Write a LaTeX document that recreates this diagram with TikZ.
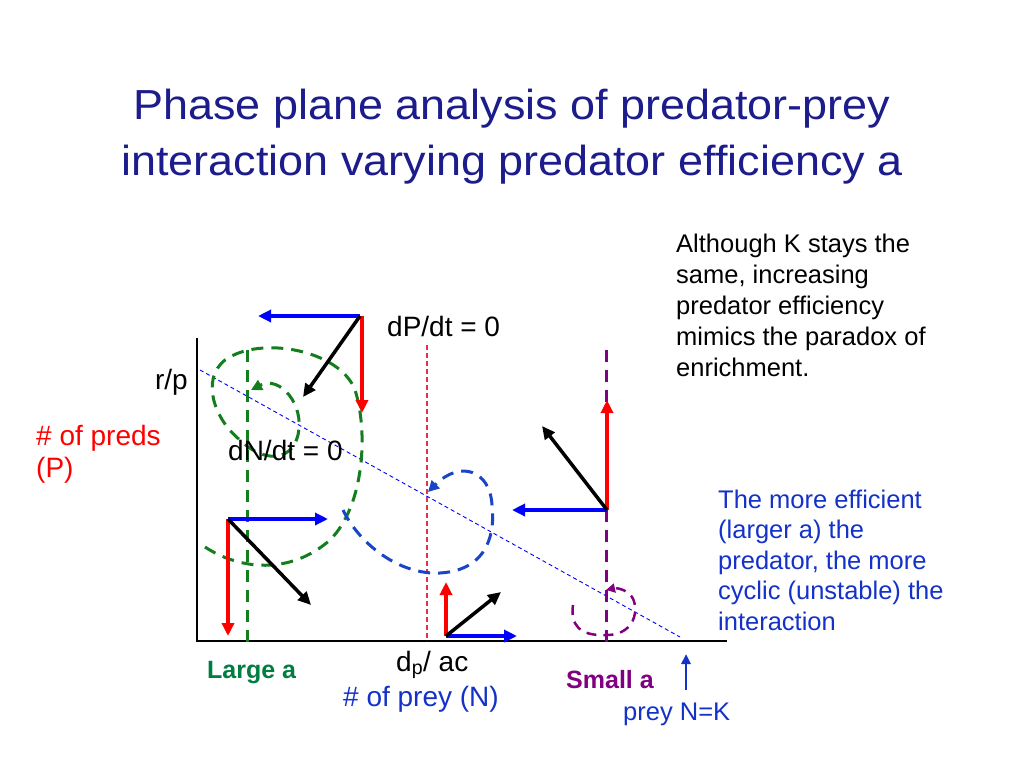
\documentclass[tikz,border=0pt]{standalone}
\usepackage{fontspec}
\setmainfont{Liberation Sans}
\usetikzlibrary{arrows.meta}
\definecolor{titleblue}{RGB}{28,28,140}
\definecolor{txtblue}{RGB}{20,50,200}
\definecolor{dgreen}{RGB}{20,125,30}
\definecolor{lgreen}{RGB}{0,125,65}
\definecolor{purp}{RGB}{128,0,128}
\definecolor{loopblue}{RGB}{25,70,200}
\definecolor{pinkred}{RGB}{235,45,80}
\tikzset{
  vec/.style={line width=3.5pt,-{Triangle[length=13pt,width=12pt]}},
  bvec/.style={vec,color=blue},
  rvec/.style={vec,color=red},
  kvec/.style={vec,color=black},
  traj/.style={line width=3pt,dash pattern=on 12pt off 8pt,-{Triangle[length=11pt,width=11pt]}},
  lbl/.style={inner sep=0pt,anchor=base west,font=\fontsize{28}{32}\selectfont},
  para/.style={inner sep=0pt,anchor=base west,font=\fontsize{25.5}{31}\selectfont},
  ttl/.style={inner sep=0pt,anchor=base,text=titleblue,xscale=1.07,font=\fontsize{42}{50}\selectfont},
}
\begin{document}
\begin{tikzpicture}[x=1pt,y=-1pt]
\useasboundingbox[fill=white] (0,0) rectangle (1024,768);
% title
\node[ttl] (t1) at (512,119) {Phase plane analysis of predator-prey};
\node[ttl] (t2) at (512,175) {interaction varying predator efficiency a};
% right paragraphs
\node[para] (p1) at (676,252) {Although K stays the};
\node[para] (p2) at (676,283) {same, increasing};
\node[para] (p3) at (676,314) {predator efficiency};
\node[para] (p4) at (676,345) {mimics the paradox of};
\node[para] (p5) at (676,376) {enrichment.};
\node[para,text=txtblue] (b1) at (718,508) {The more efficient};
\node[para,text=txtblue] (b2) at (718,538) {(larger a) the};
\node[para,text=txtblue] (b3) at (718,569) {predator, the more};
\node[para,text=txtblue] (b4) at (718,599) {cyclic (unstable) the};
\node[para,text=txtblue] (b5) at (718,630) {interaction};
% axes
\coordinate (O) at (197,641);
\coordinate (Ytop) at (197,338);
\coordinate (Xend) at (727,641);
\draw[line width=2pt] (Ytop) -- (O) -- (Xend);
% isoclines
\coordinate (d1) at (200,370); \coordinate (d2) at (680,637);
\draw[blue,line width=0.9pt,dash pattern=on 4pt off 3pt] (d1) -- (d2);
\coordinate (r1) at (427,345); \coordinate (r2) at (427,641);
\draw[pinkred,line width=1.4pt,dash pattern=on 5pt off 3pt] (r1) -- (r2);
\coordinate (g1) at (247,350); \coordinate (g2) at (247,645);
\draw[dgreen,line width=3pt,dash pattern=on 12pt off 8pt] (g1) -- (g2);
\coordinate (m1) at (606,350); \coordinate (m2) at (606,645);
\draw[purp,line width=3pt,dash pattern=on 12pt off 8pt] (m1) -- (m2);
% trajectories
\draw[traj,dgreen] (205,547) .. controls (240,570) and (290,575) .. (330,540)
  .. controls (365,505) and (368,430) .. (355,390)
  .. controls (340,350) and (260,335) .. (225,360)
  .. controls (200,380) and (215,420) .. (240,440)
  .. controls (260,460) and (290,465) .. (298,435)
  .. controls (305,405) and (280,375) .. (251,390);
\draw[traj,loopblue] (343,510) .. controls (360,545) and (400,575) .. (440,573)
  .. controls (490,570) and (495,530) .. (492,505)
  .. controls (490,470) and (460,460) .. (428,492);
\draw[traj,purp,line width=2.5pt,dash pattern=on 10pt off 7pt,-{Triangle[length=9pt,width=9pt]}] (573,605) .. controls (570,625) and (580,636) .. (605,635)
  .. controls (640,636) and (640,600) .. (628,593)
  .. controls (622,588) and (615,588) .. (606,590);
% vector groups
\coordinate (A) at (360,316);
\coordinate (Ab) at (258,316); \coordinate (Ar) at (362,413); \coordinate (Ak) at (303,397);
\draw[bvec] (A) -- (Ab); \draw[rvec] (362,316) -- (Ar); \draw[kvec] (A) -- (Ak);
\coordinate (B) at (228,519);
\coordinate (Bb) at (328,519); \coordinate (Br) at (228,636); \coordinate (Bk) at (311,605);
\draw[bvec] (B) -- (Bb); \draw[rvec] (B) -- (Br); \draw[kvec] (B) -- (Bk);
\coordinate (C) at (607,510);
\coordinate (Cb) at (512,510); \coordinate (Cr) at (607,400); \coordinate (Ck) at (542,426);
\draw[bvec] (C) -- (Cb); \draw[rvec] (C) -- (Cr); \draw[kvec] (C) -- (Ck);
\coordinate (D) at (446,636);
\coordinate (Db) at (517,636); \coordinate (Dr) at (446,582); \coordinate (Dk) at (501,592);
\draw[bvec] (D) -- (Db); \draw[rvec] (D) -- (Dr); \draw[kvec] (D) -- (Dk);
% labels
\node[lbl] (dP) at (387,336) {dP/dt = 0};
\node[lbl,anchor=base east] (rp) at (188,389) {r/p};
\node[lbl,text=red] (np1) at (36,445) {\# of preds};
\node[lbl,text=red] (np2) at (36,477) {(P)};
\node[lbl] (dN) at (228,460) {dN/dt = 0};
\node[para,text=lgreen,font=\bfseries\fontsize{25}{30}\selectfont] (La) at (207,678) {Large a};
\node[lbl] (dp) at (396,671) {d\textsubscript{p}/ ac};
\node[lbl,text=txtblue] (prey) at (343,706) {\# of prey (N)};
\node[para,text=purp,font=\bfseries\fontsize{25}{30}\selectfont] (Sa) at (566,688) {Small a};
\node[para,text=txtblue] (NK) at (623,720) {prey N=K};
\coordinate (k1) at (686,690); \coordinate (k2) at (686,654);
\draw[txtblue,line width=2.5pt,-{Triangle[length=10pt,width=9pt]}] (k1) -- (k2);
\end{tikzpicture}
\end{document}
